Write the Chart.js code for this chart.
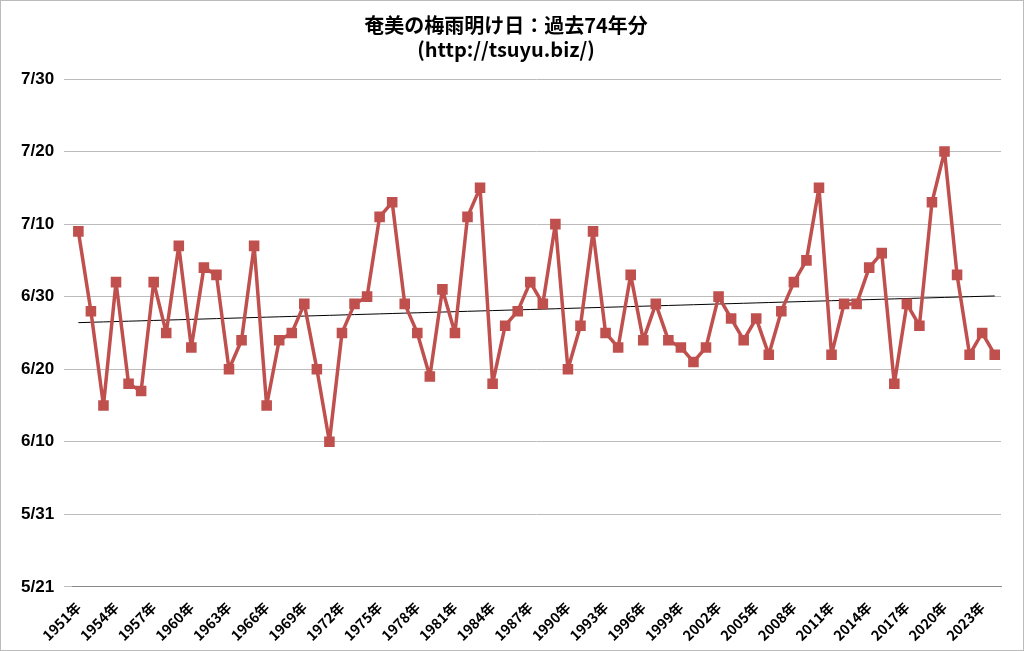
<!DOCTYPE html>
<html><head><meta charset="utf-8">
<script src="https://cdn.jsdelivr.net/npm/chart.js@4/dist/chart.umd.min.js"></script>
<style>html,body{margin:0;padding:0;background:#fff}#w{width:1022px;height:649px;border:1px solid #bbb}</style>
</head><body><div id="w"><canvas id="c" width="1022" height="649"></canvas></div>
<script>
const years = [];
for (let y = 1951; y <= 2024; y++) years.push(y + "年");
// end dates as "M/D"
const endDates = ["7/9","6/28","6/15","7/2","6/18","6/17","7/2","6/25","7/7","6/23",
"7/4","7/3","6/20","6/24","7/7","6/15","6/24","6/25","6/29","6/20",
"6/10","6/25","6/29","6/30","7/11","7/13","6/29","6/25","6/19","7/1",
"6/25","7/11","7/15","6/18","6/26","6/28","7/2","6/29","7/10","6/20",
"6/26","7/9","6/25","6/23","7/3","6/24","6/29","6/24","6/23","6/21",
"6/23","6/30","6/27","6/24","6/27","6/22","6/28","7/2","7/5","7/15",
"6/22","6/29","6/29","7/4","7/6","6/18","6/29","6/26","7/13","7/20",
"7/3","6/22","6/25","6/22"];
const tickLabels = ["5/21","5/31","6/10","6/20","6/30","7/10","7/20","7/30"];
const toDay = s => { const [m,d] = s.split("/").map(Number); return m===5 ? d-21 : m===6 ? 10+d : 40+d; };
const vals = endDates.map(toDay);
const n = vals.length, mx = (n-1)/2, my = vals.reduce((a,b)=>a+b,0)/n;
let sxy=0,sxx=0; vals.forEach((v,i)=>{sxy+=(i-mx)*(v-my);sxx+=(i-mx)*(i-mx);});
const slope = sxy/sxx; const trend = vals.map((v,i)=>my+slope*(i-mx));
new Chart(document.getElementById('c'), {
  type:'line',
  data:{labels:years,datasets:[
    {data:vals,borderColor:'#c0504d',backgroundColor:'#c0504d',borderWidth:3.5,borderJoinStyle:'round',pointStyle:'rect',pointRadius:5,pointHoverRadius:5,tension:0,order:1},
    {data:trend,borderColor:'#000',borderWidth:1,pointRadius:0,order:2}
  ]},
  options:{responsive:false,animation:false,
    layout:{padding:{left:10,right:22,top:4,bottom:2}},
    plugins:{legend:{display:false},tooltip:{enabled:false},
      title:{display:true,text:['奄美の梅雨明け日：過去74年分','(http://tsuyu.biz/)'],color:'#000',font:{size:20,weight:'bold',family:'Noto Sans CJK JP'},padding:{top:8,bottom:18},lineHeight:1.55}},
    scales:{
      x:{offset:true,grid:{display:false},border:{color:'#888'},
        ticks:{autoSkip:false,maxRotation:45,minRotation:45,color:'#000',padding:4,font:{size:14,weight:'bold',family:'Noto Sans CJK JP'},
          callback:(v,i)=> i%3===0 ? years[i] : ''}},
      y:{min:0,max:70,grid:{color:'#bbb'},border:{display:false},
        ticks:{stepSize:10,color:'#000',padding:10,font:{size:17,weight:'bold',family:'Liberation Sans'},callback:(v)=>tickLabels[v/10]}}
    }}
});
</script></body></html>
